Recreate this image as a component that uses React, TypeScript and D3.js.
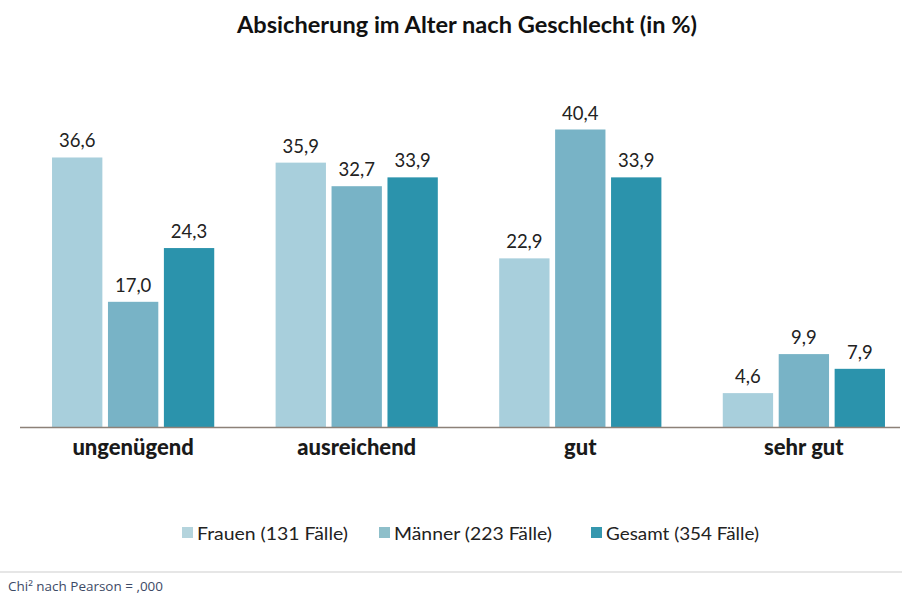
import React from "react";
import * as d3 from "d3";

const categories = ["ungenügend", "ausreichend", "gut", "sehr gut"];
const seriesNames = ["Frauen (131 Fälle)", "Männer (223 Fälle)", "Gesamt (354 Fälle)"];
const frauen = [36.6, 35.9, 22.9, 4.6];
const maenner = [17.0, 32.7, 40.4, 9.9];
const gesamt = [24.3, 33.9, 33.9, 7.9];
const barColors = ["#a8cfdc", "#78b3c6", "#2b93ac"];
const legendColors = ["#b4d4dd", "#8ebfca", "#3597ae"];

const W = 902;
const H = 594;
const baseY = 427;

const App = () => {
  const series = [frauen, maenner, gesamt];

  const x = d3
    .scaleBand<string>()
    .domain(categories)
    .range([21.4, 915.6])
    .paddingInner(0.2745)
    .paddingOuter(0.137);

  const xInner = d3
    .scaleBand<number>()
    .domain([0, 1, 2])
    .range([0, x.bandwidth()])
    .paddingInner(0.1);

  const y = d3.scaleLinear().domain([0, 40.4]).range([baseY, 129.5]);

  const fmt = (v: number) => v.toFixed(1).replace(".", ",");

  // legend: left edge of square and text width
  const legendX = [182, 379, 591];
  const legendW = [151, 158, 153];

  return (
    <svg
      width={W}
      height={H}
      style={{ position: "absolute", left: 0, top: 0, background: "#fff" }}
    >
      <text
        x={467}
        y={33}
        textAnchor="middle"
        fontFamily="Lato"
        fontWeight="bold"
        fontSize={22}
        textLength={460}
        lengthAdjust="spacingAndGlyphs"
        fill="#111"
      >
        Absicherung im Alter nach Geschlecht (in %)
      </text>

      {categories.map((c, i) => (
        <g key={c} transform={`translate(${x(c)},0)`}>
          {series.map((s, j) => (
            <g key={j}>
              <rect
                x={xInner(j)}
                y={y(s[i])}
                width={xInner.bandwidth()}
                height={baseY - y(s[i])}
                fill={barColors[j]}
              />
              <text
                x={(xInner(j) ?? 0) + xInner.bandwidth() / 2}
                y={y(s[i]) - 10}
                textAnchor="middle"
                fontFamily="Lato"
                fontSize={18.5}
                fill="#222"
              >
                {fmt(s[i])}
              </text>
            </g>
          ))}
          <text
            x={x.bandwidth() / 2}
            y={455}
            textAnchor="middle"
            fontFamily="Lato"
            fontWeight="900"
            fontSize={22}
            fill="#1a1a1a"
          >
            {c}
          </text>
        </g>
      ))}

      <line x1={20} x2={900} y1={baseY + 0.5} y2={baseY + 0.5} stroke="#8c8178" strokeWidth={1.5} />

      {seriesNames.map((n, j) => (
        <g key={n} transform={`translate(${legendX[j]},0)`}>
          <rect x={0} y={527} width={11} height={11} fill={legendColors[j]} />
          <text
            x={15}
            y={540}
            fontFamily="Lato"
            fontSize={18}
            textLength={legendW[j]}
            lengthAdjust="spacingAndGlyphs"
            fill="#222"
          >
            {n}
          </text>
        </g>
      ))}

      <line x1={0} x2={W} y1={572} y2={572} stroke="#e6e6e6" strokeWidth={2} />
      <text
        x={8}
        y={591}
        fontFamily="Open Sans"
        fontSize={13}
        textLength={155}
        lengthAdjust="spacingAndGlyphs"
        fill="#3d4a66"
      >
        Chi² nach Pearson = ,000
      </text>
    </svg>
  );
};

export default App;
